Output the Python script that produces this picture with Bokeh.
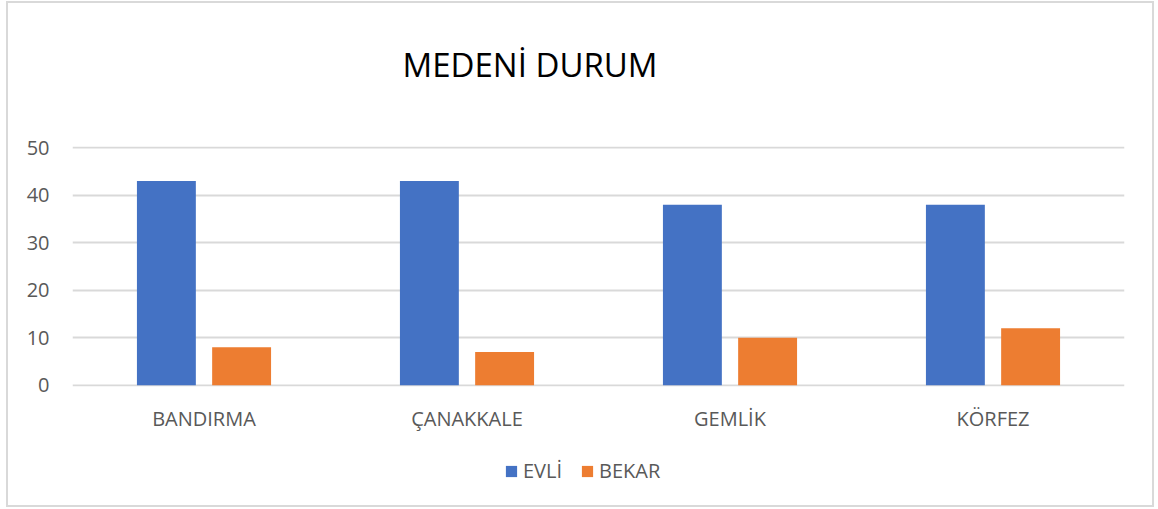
from bokeh.plotting import figure
from bokeh.layouts import column
from bokeh.models import ColumnDataSource, Label, Legend, LegendItem, SingleIntervalTicker
from bokeh.transform import dodge
from bokeh.embed import file_html
from bokeh.resources import INLINE

categories = ["BANDIRMA", "ÇANAKKALE", "GEMLİK", "KÖRFEZ"]
evli = [43, 43, 38, 38]
bekar = [8, 7, 10, 12]
series_names = ["EVLİ", "BEKAR"]
series_colors = ["#4472C4", "#ED7D31"]
title_text = "MEDENİ DURUM"

FONT = "Open Sans"
GRAY = "#595959"
W = 1144

# title strip
p0 = figure(width=W, height=123, output_backend="svg", toolbar_location=None,
            x_axis_type=None, y_axis_type=None, min_border=0,
            x_range=(0, 1), y_range=(0, 1))
p0.outline_line_color = None
p0.grid.grid_line_color = None
p0.add_layout(Label(x=330, y=62, x_units="screen", y_units="screen", text=title_text,
                    text_font=FONT, text_font_size="33px", text_color="#000000",
                    text_baseline="middle", text_align="left"))

src = ColumnDataSource(dict(cat=categories, evli=evli, bekar=bekar))

p = figure(x_range=categories, y_range=(-0.25, 50.25), width=W, height=319,
           output_backend="svg", toolbar_location=None,
           min_border_left=64, min_border_right=28, min_border_top=20, min_border_bottom=59)

p.vbar(x=dodge("cat", -0.143, range=p.x_range), top="evli", width=0.224,
       source=src, color=series_colors[0], line_color=None)
p.vbar(x=dodge("cat", 0.143, range=p.x_range), top="bekar", width=0.224,
       source=src, color=series_colors[1], line_color=None)

p.outline_line_color = None
p.xgrid.grid_line_color = None
p.ygrid.grid_line_color = "#d9d9d9"
p.ygrid.grid_line_width = 2
p.yaxis.ticker = SingleIntervalTicker(interval=10)
for ax in (p.xaxis, p.yaxis):
    ax.axis_line_color = None
    ax.major_tick_line_color = None
    ax.minor_tick_line_color = None
    ax.major_label_text_color = GRAY
    ax.major_label_text_font = FONT
    ax.major_label_text_font_size = "20px"
p.xaxis.major_label_standoff = 12
p.yaxis.major_label_standoff = 17
p.x_range.range_padding = 0

# legend strip (separate figure so the legend is not clipped)
p2 = figure(width=W, height=60, output_backend="svg", toolbar_location=None,
            x_axis_type=None, y_axis_type=None, min_border=0,
            x_range=(0, 1), y_range=(0, 1))
p2.outline_line_color = None
p2.grid.grid_line_color = None
# legend key swatches only: the single point lies outside the strip's visible range
key_src = ColumnDataSource(dict(x=[-10], top=[-10]))
k1 = p2.vbar(x="x", top="top", width=0.1, source=key_src, color=series_colors[0], line_color=None)
k2 = p2.vbar(x="x", top="top", width=0.1, source=key_src, color=series_colors[1], line_color=None)
legend = Legend(items=[LegendItem(label=series_names[0], renderers=[k1]),
                       LegendItem(label=series_names[1], renderers=[k2])],
                orientation="horizontal", location=(432, 21),
                label_text_font=FONT, label_text_font_size="20px", label_text_color=GRAY,
                glyph_width=14, glyph_height=14, spacing=18, border_line_color=None,
                background_fill_alpha=0, margin=0, padding=0, label_standoff=5)
p2.add_layout(legend)

layout = column(p0, p, p2, spacing=0, margin=(1, 0, 0, 6),
                styles={"border": "2px solid #d9d9d9"})

open("out.html", "w").write(file_html(layout, INLINE))
